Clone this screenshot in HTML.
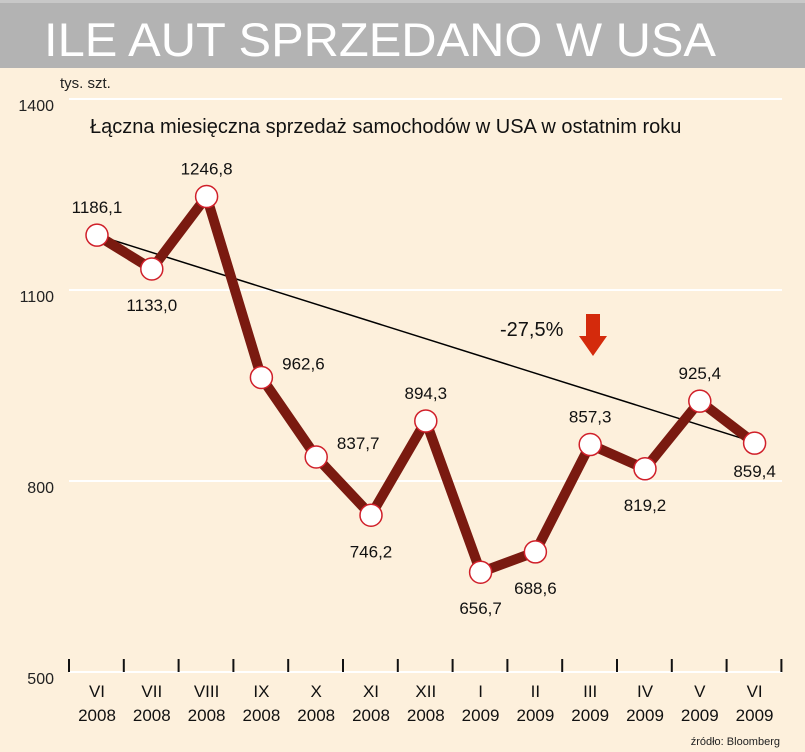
<!DOCTYPE html>
<html><head><meta charset="utf-8"><style>
body{margin:0;width:805px;height:752px;overflow:hidden;background:#fdf0dc;font-family:"Liberation Sans",sans-serif}
</style></head><body>
<svg width="805" height="752" style="position:absolute;left:0;top:0">
<rect x="0" y="0" width="805" height="752" fill="#fdf0dc"/>
<rect x="0" y="0" width="805" height="68" fill="#b3b3b3"/>
<rect x="0" y="0" width="805" height="3" fill="#c8c8c8"/>
<text x="44" y="56" font-size="47" fill="#fff" textLength="672" lengthAdjust="spacingAndGlyphs">ILE AUT SPRZEDANO W USA</text>
<text x="60" y="88" font-size="15" fill="#222">tys. szt.</text>
<text x="90" y="133" font-size="20" fill="#111">Łączna miesięczna sprzedaż samochodów w USA w ostatnim roku</text>
<g id="grid"></g><g id="axis"></g><g id="trend"></g><g id="series"></g><g id="labels"></g>
<text x="500" y="336" font-size="20" fill="#111">-27,5%</text>
<path d="M586 314 H600 V336 H607 L593 356 L579 336 H586 Z" fill="#d42a0c"/>
<text x="780" y="745" font-size="11" fill="#222" text-anchor="end">źródło: Bloomberg</text>
</svg>
<script>
const months=["VI","VII","VIII","IX","X","XI","XII","I","II","III","IV","V","VI"];
const years=["2008","2008","2008","2008","2008","2008","2008","2009","2009","2009","2009","2009","2009"];
const values=[1186.1,1133.0,1246.8,962.6,837.7,746.2,894.3,656.7,688.6,857.3,819.2,925.4,859.4];
const valueLabels=["1186,1","1133,0","1246,8","962,6","837,7","746,2","894,3","656,7","688,6","857,3","819,2","925,4","859,4"];
const yTicks=[500,800,1100,1400];
const NS="http://www.w3.org/2000/svg";
const y=v=>672-(v-500)*191/300;
const x=i=>97+i*54.8;
function mk(t,a,p){const e=document.createElementNS(NS,t);for(const k in a)e.setAttribute(k,a[k]);document.getElementById(p).appendChild(e);return e;}
yTicks.forEach(v=>{
 const l=mk('line',{x1:69,x2:782,y1:y(v),y2:y(v),stroke:'#fff','stroke-width':2},'grid');
 
 
 const t=mk('text',{x:54,y:y(v)+12,'font-size':16,'text-anchor':'end',fill:'#222'},'grid');t.textContent=v;
 
 
});
for(let i=0;i<=13;i++){
 const l=mk('line',{x1:69+i*54.8,x2:69+i*54.8,y1:659,y2:672,stroke:'#111','stroke-width':2},'axis');
 
 
}
months.forEach((m,i)=>{
 const t=mk('text',{x:x(i),y:697,'font-size':17,'text-anchor':'middle',fill:'#111'},'axis');t.textContent=m;
 
 
 const t2=mk('text',{x:x(i),y:721,'font-size':17,'text-anchor':'middle',fill:'#111'},'axis');t2.textContent=years[i];
 
 
});
const n=values.length-1;
const tl=mk('line',{x1:x(0),y1:y(values[0]),x2:x(n)+6,y2:y(values[n])+1,stroke:'#000','stroke-width':1.5},'trend');


const ah=mk('path',{d:`M${x(n)+8} ${y(values[n])+1} l-16 -1 l4 -10 z`,fill:'#000'},'trend');


const pl=mk('polyline',{points:values.map((v,i)=>x(i)+','+y(v)).join(' '),fill:'none',stroke:'#7a1a10','stroke-width':10,'stroke-linejoin':'round'},'series');


values.forEach((v,i)=>{
 const c=mk('circle',{cx:x(i),cy:y(v),r:11,fill:'#fff',stroke:'#d0202a','stroke-width':1.5},'series');
 
 
 const above=[0,2,6,9,11].includes(i);
 const side=[3,4].includes(i);
 let lx=x(i),ly=above?y(v)-22:y(v)+42;
 if(side){lx=x(i)+42;ly=y(v)-8;}
 if(i===n){ly=y(v)+34;}
 const t=mk('text',{x:lx,y:ly,'font-size':17,'text-anchor':'middle',fill:'#111'},'labels');t.textContent=valueLabels[i];
 
 
});
</script>
</body></html>
